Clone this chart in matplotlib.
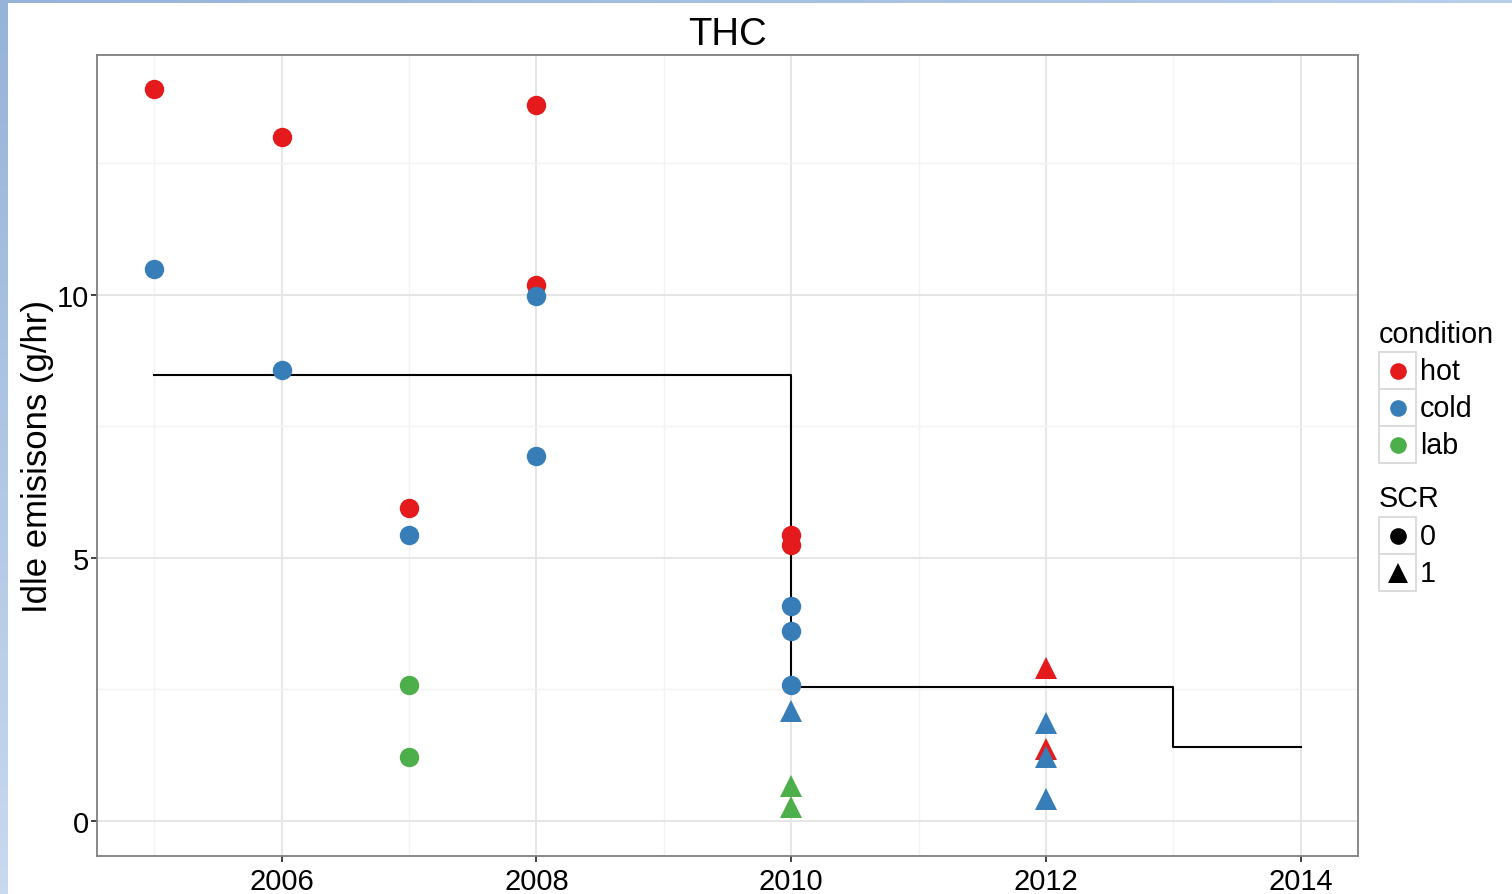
"""
THC idle emissions by model year, with the step standard line.
"""

import matplotlib
matplotlib.use('Agg')
import matplotlib.pyplot as plt
import numpy as np
from matplotlib.patches import Rectangle

plt.rcParams['font.family'] = ['Liberation Sans', 'DejaVu Sans']

# Measured points: year, value, condition, SCR flag.
years = [2005, 2005, 2006, 2006,
         2007, 2007, 2007, 2007,
         2008, 2008, 2008, 2008,
         2010, 2010, 2010, 2010, 2010, 2010, 2010, 2010,
         2012, 2012, 2012, 2012, 2012]
values = [13.92, 10.49, 13.0, 8.57,
          5.95, 5.44, 2.59, 1.22,
          13.61, 10.19, 9.98, 6.94,
          5.44, 5.25, 4.09, 3.61, 2.59, 2.09, 0.67, 0.27,
          2.91, 1.86, 1.37, 1.22, 0.42]
condition = ['hot', 'cold', 'hot', 'cold',
             'hot', 'cold', 'lab', 'lab',
             'hot', 'hot', 'cold', 'cold',
             'hot', 'hot', 'cold', 'cold', 'cold', 'cold', 'lab', 'lab',
             'hot', 'cold', 'hot', 'cold', 'cold']
scr = [0, 0, 0, 0,
       0, 0, 0, 0,
       0, 0, 0, 0,
       0, 0, 0, 0, 0, 1, 1, 1,
       1, 1, 1, 1, 1]

# Standard (step line).
std_years = [2005, 2010, 2013, 2014]
std_values = [8.48, 2.55, 1.41, 1.41]

cond_levels = ['hot', 'cold', 'lab']
cond_colors = {'hot': '#E41A1C', 'cold': '#377EB8', 'lab': '#4DAF4A'}
scr_levels = ['0', '1']
scr_markers = {0: 'o', 1: '^'}
scr_sizes = {0: 14, 1: 16}

W, H = 1512, 895
fig = plt.figure(figsize=(W / 100, H / 100), dpi=100)
fig.patch.set_facecolor('white')

# Blue screenshot frame on the left and top edges.
edge = fig.add_axes([0, 0, 8 / W, 1])
edge.imshow(np.linspace(0, 1, 100)[:, None], aspect='auto',
            cmap=matplotlib.colors.LinearSegmentedColormap.from_list(
                'e', ['#97b3d8', '#c9d9ee']), extent=[0, 1, 0, 1])
edge.axis('off')
top = fig.add_axes([0, 1 - 4 / H, 1, 4 / H])
top.imshow(np.linspace(0, 1, 100)[None, :], aspect='auto',
           cmap=matplotlib.colors.LinearSegmentedColormap.from_list(
               't', ['#97b3d8', '#b8cde8']), extent=[0, 1, 0, 1])
top.axis('off')

ax = fig.add_axes([97 / W, (H - 857) / H, (1358 - 97) / W, (857 - 56) / H])
ax.set_xlim(2004.55, 2014.45)
ax.set_ylim(-0.665, 14.56)

# Grid like theme_bw.
ax.set_xticks([2006, 2008, 2010, 2012, 2014])
ax.set_xticks([2005, 2007, 2009, 2011, 2013], minor=True)
ax.set_yticks([0, 5, 10])
ax.set_yticks([2.5, 7.5, 12.5], minor=True)
ax.grid(True, which='major', color='#e6e6e6', linewidth=1.4)
ax.grid(True, which='minor', color='#f3f3f3', linewidth=1.0)
ax.set_axisbelow(True)
for s in ax.spines.values():
    s.set_color('#7f7f7f')
    s.set_linewidth(1.3)
ax.tick_params(which='major', length=4, width=1.3, color='#333333',
               labelsize=21, labelcolor='black')
ax.tick_params(axis='x', pad=4)
ax.tick_params(axis='y', pad=2)
ax.tick_params(which='minor', length=0)

ax.step(std_years, std_values, where='post', color='black', linewidth=1.5,
        zorder=2)

for i in range(len(years)):
    ax.plot(years[i], values[i], linestyle='none',
            marker=scr_markers[scr[i]], markersize=scr_sizes[scr[i]],
            color=cond_colors[condition[i]], markeredgewidth=0, zorder=3)

ax.set_title('THC', fontsize=27.5, pad=8)
ax.set_ylabel('Idle emisisons (g/hr)', fontsize=25, labelpad=2)

# Legend drawn in pixel coordinates, ggplot style.
lg = fig.add_axes([0, 0, 1, 1], facecolor='none')
lg.set_xlim(0, W)
lg.set_ylim(H, 0)
lg.axis('off')


def legend_block(title, title_y, box_top, labels, colors, markers, sizes):
    lg.text(1379, title_y, title, fontsize=20.7, va='center', ha='left')
    for k, lab in enumerate(labels):
        y0 = box_top + k * 37
        lg.add_patch(Rectangle((1379, y0), 37, 37, facecolor='white',
                               edgecolor='#d9d9d9', linewidth=1.3))
        lg.plot(1397.5, y0 + 18.5, marker=markers[k], markersize=sizes[k],
                color=colors[k], markeredgewidth=0, linestyle='none')
        lg.text(1420, y0 + 19, lab, fontsize=20.7, va='center', ha='left')


legend_block('condition', 335, 353, cond_levels,
             [cond_colors[c] for c in cond_levels], ['o'] * 3, [12] * 3)
legend_block('SCR', 499, 518, scr_levels, ['black', 'black'],
             [scr_markers[0], scr_markers[1]], [12, 14])

fig.savefig('out.png', dpi=100)
